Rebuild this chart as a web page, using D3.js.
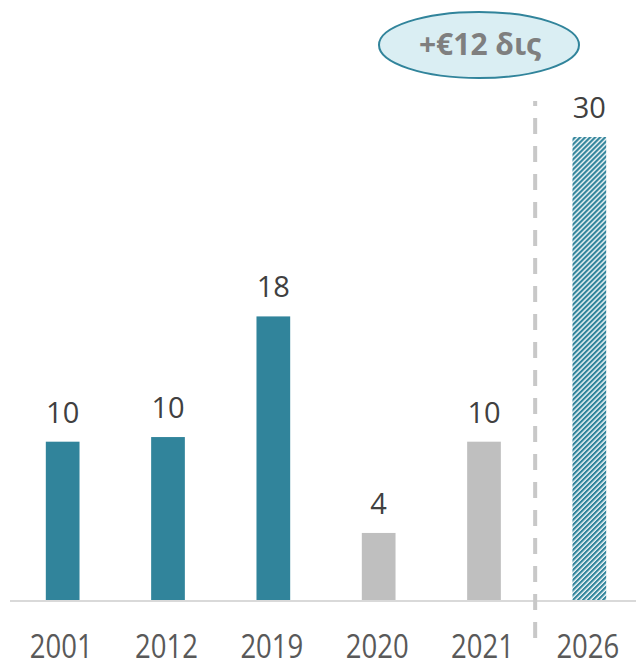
<!DOCTYPE html>
<html><head><meta charset="utf-8">
<script src="https://cdn.jsdelivr.net/npm/d3@7"></script>
<style>html,body{margin:0;padding:0;background:#fff;}svg{display:block;}</style>
</head><body>
<script>
const categories = ["2001","2012","2019","2020","2021","2026"];
const values = [10.3, 10.6, 18.4, 4.4, 10.3, 30];
const labels = ["10","10","18","4","10","30"];
const kinds = ["actual","actual","actual","covid","covid","forecast"];
const calloutText = "+€12 δις";

const W = 636, H = 666;
const svg = d3.select("body").append("svg").attr("width", W).attr("height", H);
const font = "'Open Sans', 'Noto Sans', sans-serif";

const defs = svg.append("defs");
const pw = 3.54;
const pat = defs.append("pattern").attr("id","hatch").attr("patternUnits","userSpaceOnUse")
  .attr("width",pw).attr("height",pw).attr("patternTransform","rotate(45)");
pat.append("rect").attr("width",pw).attr("height",pw).attr("fill","#fff");
pat.append("rect").attr("width",2.2).attr("height",pw).attr("fill","#31849b");

const x = d3.scaleBand().domain(categories).range([10, 642]).paddingInner(0.68).paddingOuter(0.34);
const y = d3.scaleLinear().domain([0, 30]).range([601, 137]);

const colors = {actual:"#31849b", covid:"#bfbfbf", forecast:"url(#hatch)"};

svg.selectAll("rect.bar").data(categories).join("rect").attr("class","bar")
  .attr("x", d => x(d)).attr("width", x.bandwidth())
  .attr("y", (d,i) => y(values[i])).attr("height", (d,i) => y(0) - y(values[i]))
  .attr("fill", (d,i) => colors[kinds[i]]);

// baseline axis
const axis = svg.append("g").attr("transform", `translate(0,${y(0)})`)
  .call(d3.axisBottom(x).tickSize(0).tickPadding(0));
axis.select(".domain").attr("d", "M10,0H636").attr("stroke","#d9d9d9").attr("stroke-width",2);
axis.selectAll(".tick text")
  .attr("dy", null).attr("y", 0)
  .attr("font-family", font).attr("font-size", 27.5).attr("fill","#595959")
  .attr("transform", "translate(-1.5,56.5) scale(1,1.19)");

// value labels
svg.selectAll("text.val").data(categories).join("text").attr("class","val")
  .attr("x", d => x(d) + x.bandwidth()/2)
  .attr("y", (d,i) => y(values[i]) - 19)
  .attr("text-anchor","middle").attr("font-family", font).attr("font-size", 29).attr("fill","#404040")
  .text((d,i) => labels[i]);

// dashed separator
const sepX = (x("2021") + x.bandwidth() + x("2026")) / 2 - 1.5;
svg.append("line").attr("x1", sepX).attr("x2", sepX).attr("y1", 101).attr("y2", 638)
  .attr("stroke","#c8c8c8").attr("stroke-width",4).attr("stroke-dasharray","16,12")
  .attr("stroke-dashoffset", 11);

// callout ellipse
svg.append("ellipse").attr("cx", 479).attr("cy", 45).attr("rx", 100).attr("ry", 33)
  .attr("fill","#daeef3").attr("stroke","#31849b").attr("stroke-width",2);
svg.append("text").attr("x", 480).attr("y", 55).attr("text-anchor","middle")
  .attr("font-family", font).attr("font-weight","bold").attr("font-size", 30).attr("fill","#7f7f7f")
  .text(calloutText);
</script>
</body></html>
